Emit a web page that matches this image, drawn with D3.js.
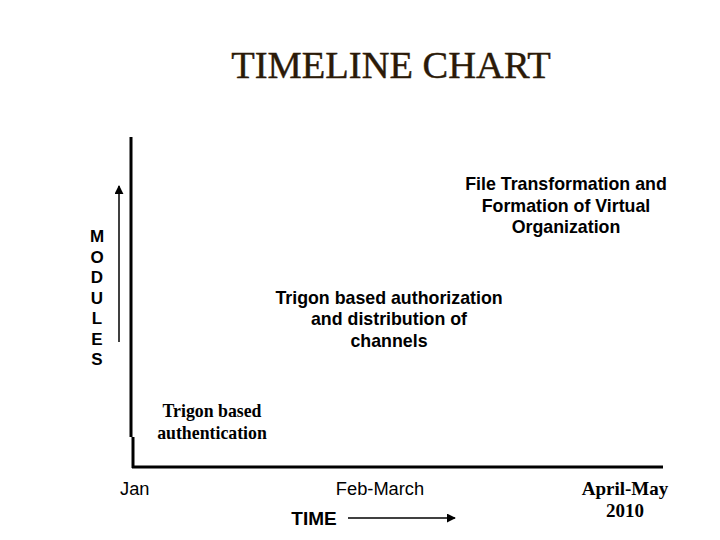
<!DOCTYPE html>
<html>
<head>
<script src="https://d3js.org/d3.v7.min.js"></script>
<style>body{margin:0;background:#fff}</style>
</head>
<body>
<svg id="plot" width="720" height="540"></svg>
<script>
// timeline stages (x) and module levels (y)
const periods = ["Jan", "Feb-March", "April-May|2010"];
const periodFonts = ["sans", "sans", "serif"];
const modules = ["Trigon based|authentication",
                 "Trigon based authorization|and distribution of|channels",
                 "File Transformation and|Formation of Virtual|Organization"];
const moduleFonts = ["serif", "sans", "sans"];

const svg = d3.select('svg#plot');
const x = d3.scalePoint().domain(d3.range(3)).range([212, 566]);
const xPeriod = d3.scalePoint().domain(d3.range(3)).range([135, 625]);
const y = d3.scalePoint().domain(d3.range(3)).range([411, 184]);
const fam = f => f == "serif" ? "Liberation Serif, serif" : "Liberation Sans, Arial, sans-serif";

svg.append('text').attr('x', 391).attr('y', 78).attr('text-anchor', 'middle')
   .style('font-family', fam('serif')).style('font-size', '38.5px').style('fill', '#2b1a08')
   .style('stroke', '#2b1a08').style('stroke-width', 0.4)
   .text('TIMELINE CHART');

// axes
svg.append('line').attr('x1', 131).attr('x2', 131).attr('y1', 137).attr('y2', 437)
   .style('stroke', '#000').style('stroke-width', 3);
svg.append('line').attr('x1', 133).attr('x2', 133).attr('y1', 437).attr('y2', 468)
   .style('stroke', '#000').style('stroke-width', 3);
svg.append('line').attr('x1', 132).attr('x2', 663).attr('y1', 467).attr('y2', 467)
   .style('stroke', '#000').style('stroke-width', 3);

svg.append('defs').append('marker').attr('id', 'arr').attr('viewBox', '0 0 10 10')
   .attr('refX', 9).attr('refY', 5).attr('markerWidth', 6).attr('markerHeight', 6)
   .attr('orient', 'auto').append('path').attr('d', 'M0,0L10,5L0,10z').style('fill', '#000');

svg.append('line').attr('x1', 119).attr('x2', 119).attr('y1', 342).attr('y2', 186)
   .style('stroke', '#000').style('stroke-width', 1.5).attr('marker-end', 'url(#arr)');
svg.append('line').attr('x1', 348).attr('x2', 455).attr('y1', 518).attr('y2', 518)
   .style('stroke', '#000').style('stroke-width', 1.5).attr('marker-end', 'url(#arr)');

"MODULES".split('').forEach((c, i) => {
  svg.append('text').attr('x', 97).attr('y', 242 + i * 20.5).attr('text-anchor', 'middle')
     .style('font-family', fam('sans')).style('font-weight', 'bold').style('font-size', '17px').text(c);
});
svg.append('text').attr('x', 314).attr('y', 525).attr('text-anchor', 'middle')
   .style('font-family', fam('sans')).style('font-size', '19px').style('font-weight', 'bold').text('TIME');

function multi(txt, cx, cy, f, weight, anchor, size) {
  txt.split('|').forEach((l, i) => {
    svg.append('text').attr('x', cx).attr('y', cy + i * 21.5).attr('text-anchor', anchor || 'middle')
       .style('font-family', fam(f)).style('font-weight', weight).style('font-size', size + 'px').text(l);
  });
}
modules.forEach((m, i) => multi(m, x(i), y(i) + 6, moduleFonts[i], 'bold', null, 17.8));
periods.forEach((p, i) => multi(p, xPeriod(i) + (i == 0 ? -15 : 0), 495, periodFonts[i],
   i == 2 ? 'bold' : 'normal', i == 0 ? 'start' : 'middle', i == 2 ? 19 : 18.3));
</script>
</body>
</html>
